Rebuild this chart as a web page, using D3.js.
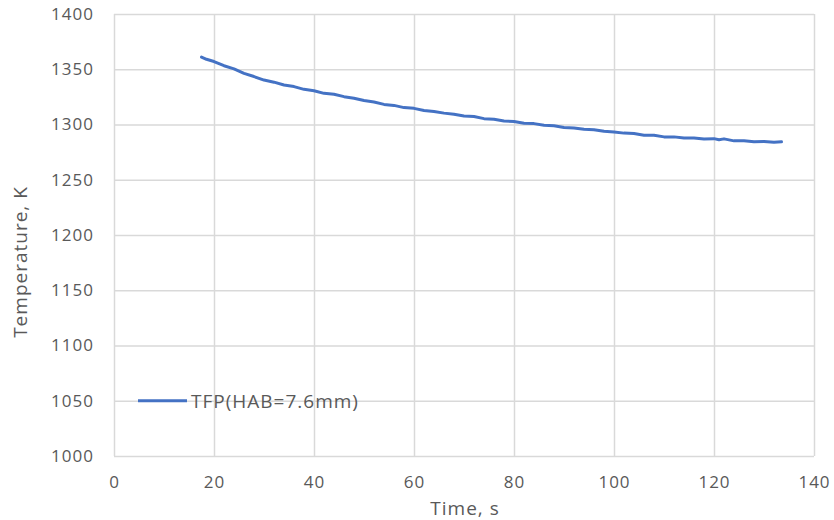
<!DOCTYPE html>
<html>
<head>
<meta charset="utf-8">
<script src="https://cdn.jsdelivr.net/npm/d3@7"></script>
<style>
  body { margin: 0; background: #fff; }
  text { font-family: "Open Sans", sans-serif; fill: #595959; letter-spacing: 1px; }
</style>
</head>
<body>
<div id="chart-root"></div>
<script>
// time (s) and flame temperature (K)
var times = [17.5, 18.5, 20, 22, 24, 26, 28, 30, 32, 34, 36, 38, 40, 42, 44, 46, 48, 50,
  52, 54, 56, 58, 60, 62, 64, 66, 68, 70, 72, 74, 76, 78, 80, 82, 84, 86, 88, 90,
  92, 94, 96, 98, 100, 102, 104, 106, 108, 110, 112, 114, 116, 118, 120, 121, 122,
  124, 126, 128, 130, 132, 133.5];
var temps = [1361, 1359, 1357, 1353.2, 1350.4, 1346.3, 1343.4, 1340.2, 1338.3, 1335.7, 1334.3, 1331.8, 1330.6, 1328.2, 1327.3, 1325.2, 1323.8, 1321.7,
  1320.3, 1318.2, 1317.3, 1315.3, 1314.6, 1312.7, 1311.8, 1310.3, 1309.3, 1307.7, 1307.2, 1305.3, 1304.8, 1303.2, 1302.7, 1301.2, 1300.8, 1299.3, 1298.8, 1297.3,
  1296.8, 1295.7, 1295.3, 1293.8, 1293.3, 1292.2, 1291.8, 1290.3, 1290.2, 1288.8, 1288.8, 1287.7, 1287.8, 1286.8, 1287.2, 1286.2, 1287,
  1285.2, 1285.3, 1284.4, 1284.7, 1284, 1284.3];
var xTicks = [0, 20, 40, 60, 80, 100, 120, 140];
var yTicks = [1000, 1050, 1100, 1150, 1200, 1250, 1300, 1350, 1400];
var seriesName = "TFP(HAB=7.6mm)";

(function () {
  var W = 834, H = 520;
  var margin = { top: 14, left: 114, right: 20, bottom: 64 },
      width  = W - margin.left - margin.right,
      height = H - margin.top - margin.bottom;

  var svg = d3.select("#chart-root")
    .append("svg")
      .attr("width", W)
      .attr("height", H)
    .append("g")
      .attr("transform", "translate(" + margin.left + "," + margin.top + ")");

  var x = d3.scaleLinear().domain([0, 140]).range([0, width]);
  var y = d3.scaleLinear().domain([1000, 1400]).range([height, 0]);

  // gridlines
  svg.append("g")
    .attr("transform", "translate(0," + height + ")")
    .call(d3.axisBottom(x).tickValues(xTicks).tickSize(-height).tickFormat(""))
    .call(function (g) { g.select(".domain").remove(); })
    .selectAll("line").attr("stroke", "#d9d9d9").attr("stroke-width", 1.5);
  svg.append("g")
    .call(d3.axisLeft(y).tickValues(yTicks).tickSize(-width).tickFormat(""))
    .call(function (g) { g.select(".domain").remove(); })
    .selectAll("line").attr("stroke", "#d9d9d9").attr("stroke-width", 1.5);

  // tick labels
  var xAxis = svg.append("g")
    .attr("transform", "translate(0," + height + ")")
    .call(d3.axisBottom(x).tickValues(xTicks).tickSize(0).tickPadding(20).tickFormat(d3.format("d")));
  xAxis.select(".domain").remove();
  xAxis.selectAll("text").style("font-size", "17px").style("font-family", "'Open Sans', sans-serif").attr("fill", "#595959");

  var yAxis = svg.append("g")
    .call(d3.axisLeft(y).tickValues(yTicks).tickSize(0).tickPadding(20).tickFormat(d3.format("d")));
  yAxis.select(".domain").remove();
  yAxis.selectAll("text").style("font-size", "17px").style("font-family", "'Open Sans', sans-serif").attr("fill", "#595959");

  // series
  var data = times.map(function (t, i) { return { t: t, v: temps[i] }; });
  svg.append("path")
    .datum(data)
    .attr("fill", "none")
    .attr("stroke", "#4472c4")
    .attr("stroke-width", 3)
    .attr("stroke-linejoin", "round")
    .attr("stroke-linecap", "round")
    .attr("d", d3.line()
      .x(function (d) { return x(d.t); })
      .y(function (d) { return y(d.v); }));

  // legend
  var lg = svg.append("g").attr("transform", "translate(24," + y(1050) + ")");
  lg.append("line")
    .attr("x1", 0).attr("x2", 49)
    .attr("stroke", "#4472c4").attr("stroke-width", 3);
  lg.append("text")
    .attr("x", 53).attr("dy", "0.36em")
    .style("font-size", "19px")
    .text(seriesName);

  // axis titles
  svg.append("text")
    .attr("x", width / 2 + 1).attr("y", height + 59)
    .attr("text-anchor", "middle")
    .style("font-size", "19px")
    .text("Time, s");
  svg.append("text")
    .attr("transform", "rotate(-90)")
    .attr("x", -248).attr("y", -87)
    .attr("text-anchor", "middle")
    .style("font-size", "19px")
    .text("Temperature, K");
})();
</script>
</body>
</html>
